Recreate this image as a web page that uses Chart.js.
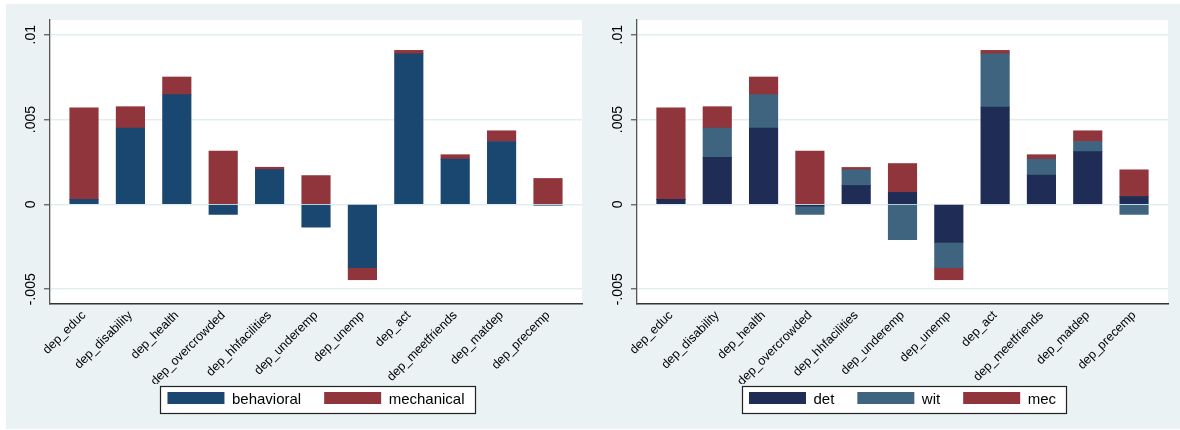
<!DOCTYPE html>
<html>
<head>
<meta charset="utf-8">
<script src="https://cdn.jsdelivr.net/npm/chart.js@4/dist/chart.umd.min.js"></script>
<style>
  html, body { margin: 0; padding: 0; background: #fff; }
  #frame { position: absolute; left: 6px; top: 4px; width: 1174px; height: 425px; background: #eaf2f3; }
  #left { position: absolute; left: 0; top: 0; }
  #right { position: absolute; left: 584px; top: 0; }
</style>
</head>
<body>
<div id="frame">
  <canvas id="left" width="584" height="425"></canvas>
  <canvas id="right" width="590" height="425"></canvas>
</div>
<script>
(() => {
  "use strict";

  const categories = ["dep_educ", "dep_disability", "dep_health", "dep_overcrowded", "dep_hhfacilities",
    "dep_underemp", "dep_unemp", "dep_act", "dep_meetfriends", "dep_matdep", "dep_precemp"];

  // left panel
  const behavioral = [0.0003, 0.0045, 0.00647, -0.00059, 0.00205, -0.00134, -0.00373, 0.00888, 0.00267, 0.00371, -0.00005];
  const mechanical = [0.0054, 0.00126, 0.00104, 0.00314, 0.00014, 0.0017, -0.00071, 0.0002, 0.00026, 0.00063, 0.00153];

  // right panel
  const det = [0.0003, 0.00277, 0.0045, -0.0001, 0.00112, 0.00071, -0.00224, 0.00574, 0.00173, 0.00311, 0.00047];
  const wit = [0, 0.00173, 0.00197, -0.00049, 0.00092, -0.00208, -0.00149, 0.00314, 0.00094, 0.0006, -0.00059];
  const mec = [0.0054, 0.00126, 0.00104, 0.00314, 0.00014, 0.0017, -0.00071, 0.0002, 0.00026, 0.00063, 0.00157];

  const yTicks = [-0.005, 0, 0.005, 0.01];
  const yTickLabels = ["-.005", "0", ".005", ".01"];

  const LEGEND_TOP = 365; // canvas px, legend box is moved here after layout

  Chart.defaults.font.family = "'Liberation Sans', Arial, sans-serif";
  Chart.defaults.color = "#000";

  // white plot region + framed legend, drawn before the layers
  const panelPlugin = {
    id: "panel",
    afterLayout(chart) {
      // x labels need a tall axis box (they are clipped to it), so pull the legend back up
      const lg = chart.legend;
      const shift = lg.top - LEGEND_TOP;
      lg.top -= shift;
      lg.bottom -= shift;
    },
    beforeDraw(chart) {
      const { ctx, chartArea: a, legend } = chart;
      ctx.save();
      ctx.fillStyle = "#fff";
      ctx.fillRect(a.left, a.top, a.right - a.left, a.bottom - a.top);
      const boxes = legend.legendHitBoxes;
      if (boxes && boxes.length) {
        const first = boxes[0];
        const last = boxes[boxes.length - 1];
        const x0 = Math.round(first.left - 7) + 0.5;
        const x1 = Math.round(last.left + last.width + 10) + 0.5;
        const y0 = Math.round(first.top - 6) + 0.5;
        const y1 = Math.round(first.top + 15 + 6) + 0.5;
        ctx.fillRect(x0, y0, x1 - x0, y1 - y0);
        ctx.strokeStyle = "#222";
        ctx.lineWidth = 1.2;
        ctx.strokeRect(x0, y0, x1 - x0, y1 - y0);
      }
      ctx.restore();
    }
  };

  function toPoints(values) {
    return values.map((v, i) => ({ x: i, y: v }));
  }

  function makeChart(id, series, yAxisWidth, rightPad) {
    return new Chart(document.getElementById(id), {
      type: "bar",
      data: {
        datasets: series.map((s) => ({
          label: s.label,
          data: toPoints(s.values),
          backgroundColor: s.color,
          borderWidth: 0,
          barThickness: 28.5,
        })),
      },
      options: {
        responsive: false,
        animation: false,
        layout: { padding: { top: 16, bottom: 10, left: 0, right: rightPad } },
        plugins: {
          tooltip: { enabled: false },
          legend: {
            position: "bottom",
            fullSize: false,
            maxHeight: 35,
            labels: {
              boxWidth: 57,
              boxHeight: 15,
              padding: 23,
              color: "#000",
              font: { size: 15 },
            },
          },
        },
        scales: {
          x: {
            type: "linear",
            offset: false,
            stacked: true,
            min: -0.733,
            max: 10.733,
            afterBuildTicks: (scale) => {
              scale.ticks = categories.map((c, i) => ({ value: i }));
            },
            afterFit: (scale) => {
              scale.height = 80;
            },
            grid: { display: false, drawTicks: false, offset: false },
            border: { color: "#333", width: 1.5 },
            ticks: {
              autoSkip: false,
              minRotation: 45,
              maxRotation: 45,
              padding: 4,
              font: { size: 12.5 },
              callback: (value) => categories[value],
            },
          },
          y: {
            stacked: true,
            min: -0.00587,
            max: 0.01087,
            afterBuildTicks: (scale) => {
              scale.ticks = yTicks.map((v) => ({ value: v }));
            },
            afterFit: (scale) => {
              scale.width = yAxisWidth;
            },
            grid: {
              color: "#e3edef",
              lineWidth: 1.5,
              tickLength: 6,
              tickColor: "#555",
              tickWidth: 1.2,
            },
            border: { color: "#555", width: 1.3 },
            ticks: {
              autoSkip: false,
              minRotation: 90,
              maxRotation: 90,
              crossAlign: "center",
              padding: -3,
              font: { size: 14 },
              callback: (value, index) => yTickLabels[index],
            },
          },
        },
      },
      plugins: [panelPlugin],
    });
  }

  makeChart("left", [
    { label: "behavioral", values: behavioral, color: "#1a476f" },
    { label: "mechanical", values: mechanical, color: "#90353b" },
  ], 44, 8);

  makeChart("right", [
    { label: "det", values: det, color: "#1f2c55" },
    { label: "wit", values: wit, color: "#3f647f" },
    { label: "mec", values: mec, color: "#90353b" },
  ], 47, 12);
})();
</script>
</body>
</html>
